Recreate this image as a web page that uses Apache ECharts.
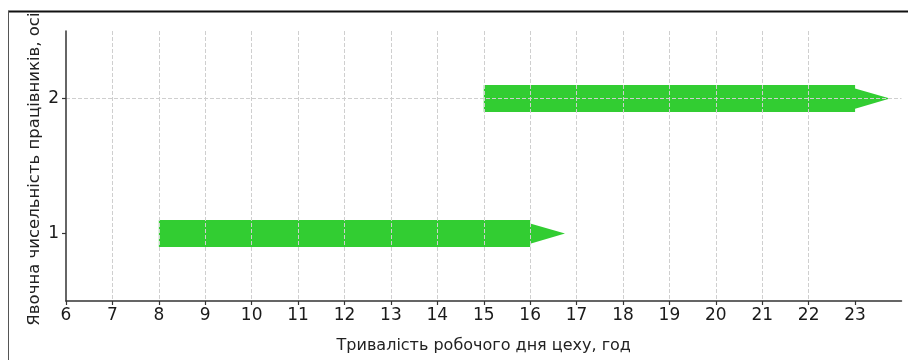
<!DOCTYPE html>
<html><head><meta charset="utf-8">
<script src="https://cdn.jsdelivr.net/npm/echarts@6/dist/echarts.min.js"></script>
<style>html,body{margin:0;padding:0;background:#fff}#c{width:908px;height:360px}</style>
</head><body><div id="c"></div>
<script>
// ---- data ----
const xTicks = [6, 7, 8, 9, 10, 11, 12, 13, 14, 15, 16, 17, 18, 19, 20, 21, 22, 23];
const yTicks = [1, 2];
const workers = [1, 2];
const startHours = [8, 15];
const endHours = [16, 23];
const xAxisName = 'Тривалість робочого дня цеху, год';
const yAxisName = 'Явочна чисельність працівників, осіб';

// ---- arrow geometry (in data units) ----
const BODY_W = 0.2, HEAD_W = 0.15, HEAD_L = 0.75;
const FONT = 'DejaVu Sans';

const chart = echarts.init(document.getElementById('c'), null, {renderer: 'canvas'});
const seriesData = workers.map((w, i) => [startHours[i], endHours[i], w]);

chart.setOption({
  animation: false,
  backgroundColor: '#fff',
  grid: {left: 66, right: 6.5, top: 31, bottom: 59, containLabel: false, outerBoundsMode: 'none'},
  xAxis: {
    type: 'value', min: 6, max: 24, interval: 1, z: 5,
    axisLine: {show: true, lineStyle: {color: '#333', width: 1.5}},
    axisTick: {show: true, length: 4, inside: false, customValues: xTicks, lineStyle: {color: '#333', width: 1.2}},
    axisLabel: {show: true, customValues: xTicks, fontSize: 17, color: '#1a1a1a', margin: 6, fontFamily: FONT,
      formatter: v => (xTicks.indexOf(v) >= 0 ? String(v) : '')},
    splitLine: {show: true, showMinLine: false, showMaxLine: false, lineStyle: {color: '#cfcfcf', type: [4, 2], width: 1}},
    name: xAxisName, nameLocation: 'middle', nameGap: 37, nameMoveOverlap: false,
    nameTextStyle: {fontSize: 16, color: '#222', fontFamily: FONT}
  },
  yAxis: {
    type: 'value', min: 0.5, max: 2.5, interval: 0.5, z: 5,
    axisLine: {show: true, lineStyle: {color: '#333', width: 1.5}},
    axisTick: {show: true, length: 4, inside: false, customValues: yTicks, lineStyle: {color: '#333', width: 1.2}},
    axisLabel: {show: true, customValues: yTicks, fontSize: 17, color: '#1a1a1a', margin: 7, fontFamily: FONT,
      formatter: v => (yTicks.indexOf(v) >= 0 ? String(v) : '')},
    splitLine: {show: true, lineStyle: {color: ['transparent', '#cfcfcf', 'transparent', '#cfcfcf', 'transparent'], type: [4, 2], width: 1}},
    name: yAxisName, nameLocation: 'middle', nameGap: 23, nameMoveOverlap: false,
    nameTextStyle: {fontSize: 16.5, color: '#222', fontFamily: FONT, padding: [0, 0, 0, 4]}
  },
  series: [{
    type: 'custom', z: 1,
    data: seriesData,
    encode: {x: [0, 1], y: 2},
    renderItem: function (params, api) {
      const s = api.value(0), e = api.value(1), y = api.value(2);
      const P = (xx, yy) => api.coord([xx, yy]);
      const pts = [
        P(s, y + BODY_W / 2), P(e, y + BODY_W / 2), P(e, y + HEAD_W / 2),
        P(e + HEAD_L, y),
        P(e, y - HEAD_W / 2), P(e, y - BODY_W / 2), P(s, y - BODY_W / 2)
      ];
      return {type: 'polygon', shape: {points: pts}, style: {fill: '#32cd32', stroke: null}};
    }
  }],
  graphic: [
    {type: 'rect', z: 100, silent: true, shape: {x: 0, y: 0, width: 908, height: 11}, style: {fill: '#fff'}},
    {type: 'line', z: 101, silent: true, shape: {x1: 8, y1: 11.5, x2: 908, y2: 11.5}, style: {stroke: '#111', lineWidth: 2}},
    {type: 'line', z: 101, silent: true, shape: {x1: 8.5, y1: 11, x2: 8.5, y2: 360}, style: {stroke: '#555', lineWidth: 1}}
  ]
});
</script>
</body></html>
